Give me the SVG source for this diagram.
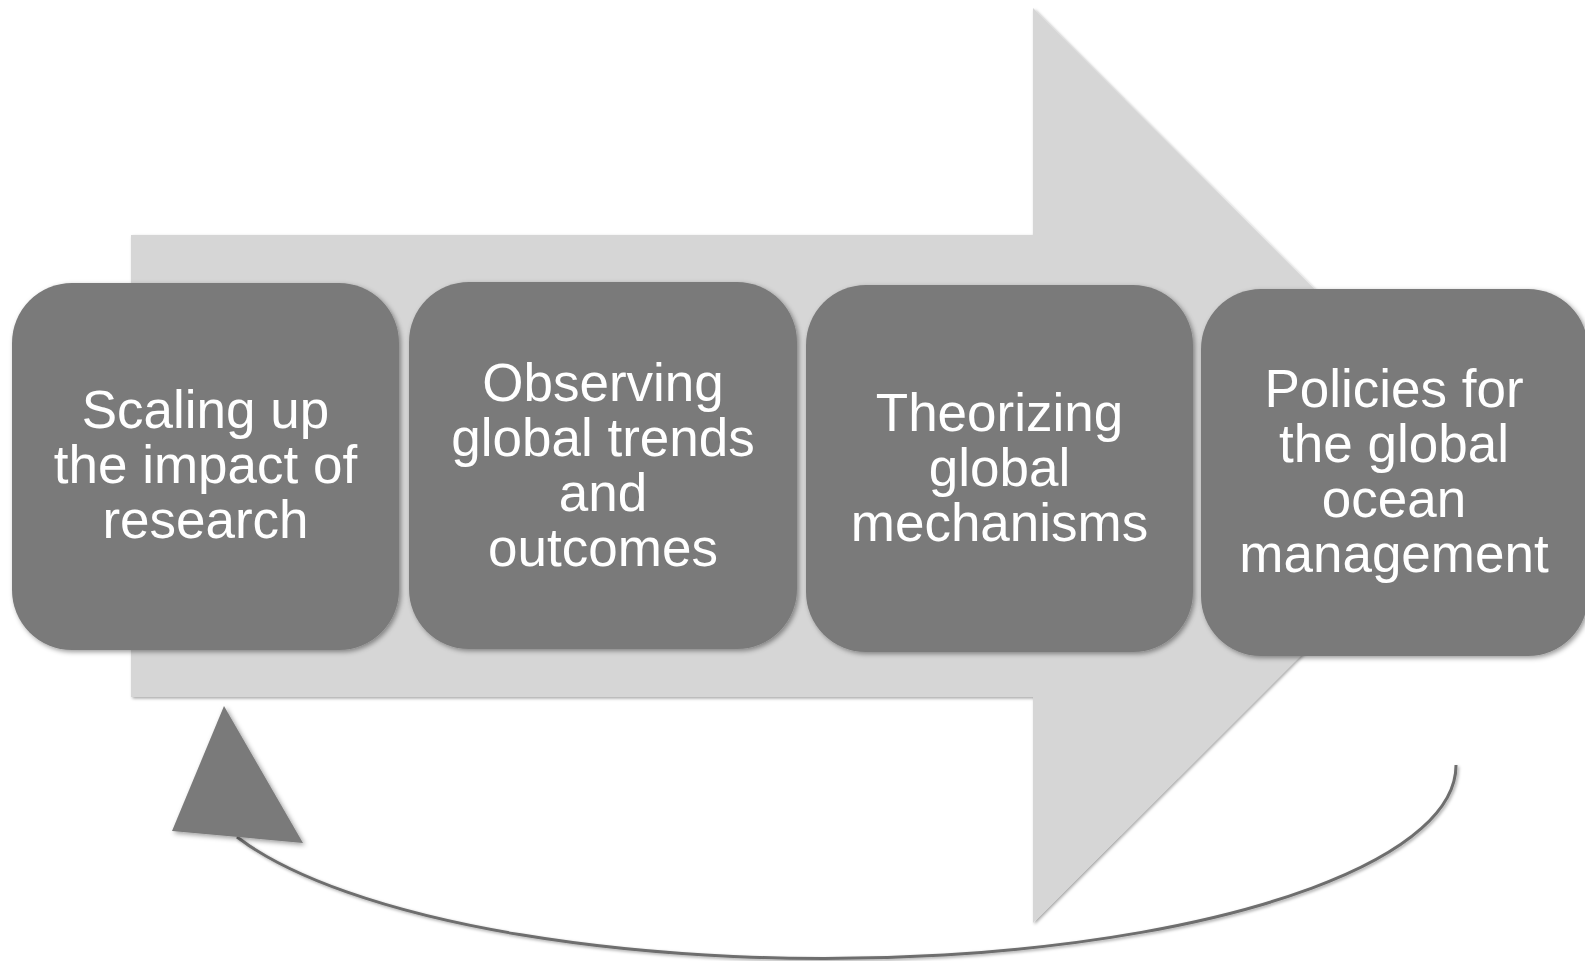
<svg xmlns="http://www.w3.org/2000/svg" width="1585" height="961" viewBox="0 0 1585 961">
<defs>
<filter id="sh" x="-10%" y="-10%" width="120%" height="120%">
<feDropShadow dx="2" dy="2" stdDeviation="2.5" flood-color="#000" flood-opacity="0.4"/>
</filter>
<filter id="shA" x="-5%" y="-5%" width="110%" height="110%">
<feDropShadow dx="1.5" dy="1.5" stdDeviation="1.5" flood-color="#000" flood-opacity="0.35"/>
</filter>
<style>
.box{fill:#7a7a7a;filter:url(#sh);}
.lbl{fill:#ffffff;font-family:"Liberation Sans",Arial,sans-serif;font-size:53px;text-anchor:middle;}
.conn{fill:none;stroke:#6e6e6e;stroke-width:3;filter:url(#shA);}
</style>
</defs>
<rect width="1585" height="961" fill="#ffffff"/>
<g id="big-arrow">
<polygon points="131,235 1033,235 1033,8 1491,465.5 1033,923 1033,697 131,697" fill="#d6d6d6" filter="url(#shA)"/>
</g>
<g id="connectors">
<path class="conn" d="M 1456 765 A 632 193 0 0 1 237 837"/>
<polygon points="224,706 172,831 303,843" fill="#7a7a7a" filter="url(#sh)"/>
</g>
<g id="node1">
<rect class="box" x="12" y="283" width="387" height="367" rx="60" ry="60"/>
<text class="lbl"><tspan x="205.5" y="428">Scaling up</tspan><tspan x="205.5" y="483">the impact of</tspan><tspan x="205.5" y="538">research</tspan></text>
</g>
<g id="node2">
<rect class="box" x="409" y="282" width="388" height="367" rx="60" ry="60"/>
<text class="lbl"><tspan x="603" y="401">Observing</tspan><tspan x="603" y="456">global trends</tspan><tspan x="603" y="511">and</tspan><tspan x="603" y="566">outcomes</tspan></text>
</g>
<g id="node3">
<rect class="box" x="806" y="285" width="387" height="367" rx="60" ry="60"/>
<text class="lbl"><tspan x="999.5" y="431">Theorizing</tspan><tspan x="999.5" y="486">global</tspan><tspan x="999.5" y="541">mechanisms</tspan></text>
</g>
<g id="node4">
<rect class="box" x="1201" y="289" width="387" height="367" rx="60" ry="60"/>
<text class="lbl"><tspan x="1394" y="407">Policies for</tspan><tspan x="1394" y="462">the global</tspan><tspan x="1394" y="517">ocean</tspan><tspan x="1394" y="572">management</tspan></text>
</g>
</svg>
